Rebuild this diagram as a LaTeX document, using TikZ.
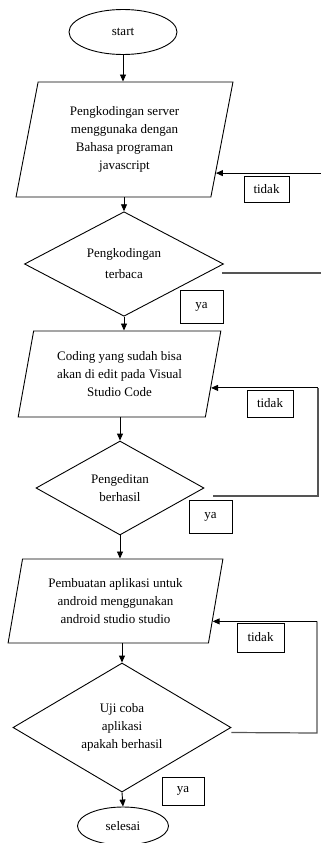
\documentclass[tikz,border=0pt]{standalone}
\usepackage{fontspec}
\setmainfont{Liberation Serif}
\usepackage{tikz}
\usetikzlibrary{shapes.geometric,arrows.meta,calc}
\definecolor{LoopGray}{HTML}{555555}

\begin{document}
\begin{tikzpicture}[x=1pt,y=-1pt,
    every node/.style={font=\fontsize{13}{18}\selectfont,align=center,inner sep=0pt},
    terminal/.style={draw,ellipse,line width=0.9pt},
    inout/.style={draw,trapezium,trapezium stretches=true,line width=0.9pt},
    decision/.style={draw,diamond,line width=0.9pt},
    answer/.style={draw,line width=0.9pt},
    flow/.style={line width=0.9pt,-{Triangle[length=7pt,width=6pt]}},
    back/.style={line width=1.2pt,draw=LoopGray}]
    \useasboundingbox (0,0) rectangle (321,843);

    \node[terminal,minimum width=108,minimum height=45] (start) at (123,32) {start};
    \node[inout,trapezium left angle=78,trapezium right angle=102,
          minimum width=217,minimum height=115] (p1) at (124.5,139.5)
          {Pengkodingan server\\menggunaka dengan\\Bahasa programan\\javascript};
    \node[decision,minimum width=199,minimum height=90] (d1) at (124,264)
          {Pengkodingan\\[3pt]terbaca};
    \node[inout,trapezium left angle=76,trapezium right angle=104,
          minimum width=203,minimum height=86] (p2) at (119.5,374)
          {Coding yang sudah bisa\\akan di edit pada Visual\\Studio Code};
    \node[decision,minimum width=168,minimum height=94] (d2) at (120,488) {Pengeditan\\berhasil};
    \node[inout,trapezium left angle=77,trapezium right angle=103,
          minimum width=215,minimum height=84] (p3) at (115.5,601)
          {Pembuatan aplikasi untuk\\android menggunakan\\android studio studio};
    \node[decision,minimum width=218,minimum height=125] (d3) at (122,727.5) {Uji coba\\aplikasi\\apakah berhasil};
    \node[terminal,minimum width=91,minimum height=38] (end) at (123,826) {selesai};

    \node[answer,minimum width=45,minimum height=26] (t1) at (266.5,189) {tidak};
    \node[answer,minimum width=43,minimum height=33] (y1) at (201.5,306.5) {ya};
    \node[answer,minimum width=46,minimum height=27] (t2) at (270,403.5) {tidak};
    \node[answer,minimum width=43,minimum height=33] (y2) at (210.5,516.5) {ya};
    \node[answer,minimum width=47,minimum height=29] (t3) at (260.5,637.5) {tidak};
    \node[answer,minimum width=42,minimum height=28] (y3) at (183,791) {ya};

    \draw[flow] (start.south) -- (start.south |- p1.north);
    \draw[flow] (d1.north |- p1.south) -- (d1.north);
    \draw[flow] (d1.south) -- (d1.south |- p2.north);
    \draw[flow] (d2.north |- p2.south) -- (d2.north);
    \draw[flow] (d2.south) -- (d2.south |- p3.north);
    \draw[flow] (d3.north |- p3.south) -- (d3.north);
    \draw[flow] (d3.south) -- (end.north);

    \coordinate (p1in) at ($(p1.top right corner)!0.79!(p1.bottom right corner)$);
    \coordinate (p2in) at ($(p2.top right corner)!0.66!(p2.bottom right corner)$);
    \coordinate (p3in) at ($(p3.top right corner)!0.74!(p3.bottom right corner)$);
    \coordinate (r1) at (323,273);
    \coordinate (r2) at (318,496);
    \coordinate (r3) at (317,733);

    \draw[back] ($(d1.east)+(-2,9)$) -- (r1) -- (r1 |- p1in);
    \draw[flow] (r1 |- p1in) -- (p1in);
    \draw[back] ($(d2.east)+(9,8)$) -- (r2) -- (r2 |- p2in);
    \draw[flow] (r2 |- p2in) -- (p2in);
    \draw[back] ($(d3.east)+(0,5)$) -- (r3) -- (r3 |- p3in);
    \draw[flow] (r3 |- p3in) -- (p3in);
\end{tikzpicture}
\end{document}
